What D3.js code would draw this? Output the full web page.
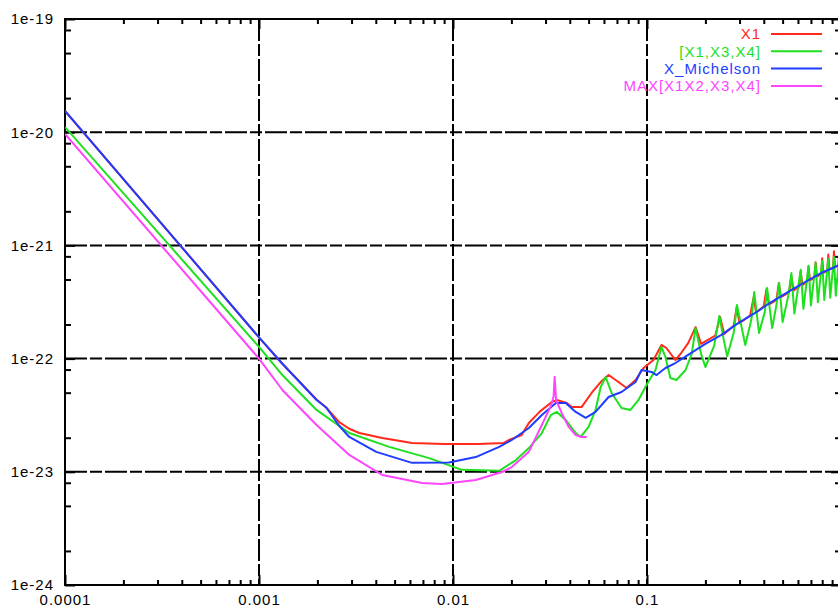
<!DOCTYPE html>
<html>
<head>
<meta charset="utf-8">
<script src="https://cdn.jsdelivr.net/npm/d3@7"></script>
<style>
  body { margin: 0; background: #fff; }
  text { font-family: "Liberation Sans", Arial, Helvetica, sans-serif; font-size: 15px; letter-spacing: 1px; }
</style>
</head>
<body>
<div class="chart"></div>
<script>
// DATA ------------------------------------
const x1Freq = [1e-4, 1e-3, 1.32e-3, 1.98e-3, 2.22e-3, 2.59e-3, 2.92e-3, 3.29e-3, 4.32e-3, 6.15e-3, 9e-3, 1.36e-2, 1.83e-2, 1.94e-2, 2.26e-2, 2.46e-2, 2.8e-2, 3.23e-2, 3.43e-2, 3.86e-2, 4.09e-2, 4.6e-2, 5.18e-2, 5.77e-2, 6.34e-2, 7.13e-2, 7.85e-2, 8.73e-2, 9.6e-2, 0.108, 0.1188, 0.1259, 0.14, 0.15, 0.163,
    0.178, 0.19, 0.225, 0.238, 0.25, 0.28, 0.29, 0.3, 0.34, 0.355, 0.365, 0.4, 0.413, 0.425, 0.465, 0.478, 0.49, 0.54, 0.555, 0.57, 0.61, 0.62, 0.632, 0.67, 0.68, 0.692, 0.73, 0.74, 0.752, 0.79, 0.8, 0.812, 0.85, 0.86, 0.872, 0.91, 0.92, 0.932, 0.97, 0.98, 1.0];
const x1Val = [1.54e-20, 1.54e-22, 9.0e-23, 4.35e-23, 3.7e-23, 2.75e-23, 2.4e-23, 2.2e-23, 1.99e-23, 1.8e-23, 1.76e-23, 1.76e-23, 1.8e-23, 1.91e-23, 2.11e-23, 2.7e-23, 3.4e-23, 4.13e-23, 4.31e-23, 4.05e-23, 3.73e-23, 3.73e-23, 4.97e-23, 6.21e-23, 7.16e-23, 6.21e-23, 5.5e-23, 6.47e-23, 8.26e-23, 9.72e-23, 1.32e-22, 1.24e-22, 9.72e-23, 1.12e-22, 1.37e-22,
    1.9e-22, 1.35e-22, 1.6e-22, 2.33e-22, 1.65e-22, 1.95e-22, 2.86e-22, 2.05e-22, 2.4e-22, 3.5e-22, 2.55e-22, 2.9e-22, 4.12e-22, 3.0e-22, 3.3e-22, 4.66e-22, 3.5e-22, 3.85e-22, 5.26e-22, 4.0e-22, 4.35e-22, 5.9e-22, 4.45e-22, 4.8e-22, 6.5e-22, 4.9e-22, 5.2e-22, 7.1e-22, 5.3e-22, 5.6e-22, 7.7e-22, 5.7e-22, 6.0e-22, 8.3e-22, 6.1e-22, 6.35e-22, 8.9e-22, 6.45e-22, 6.7e-22, 9.4e-22, 6.9e-22];

const x134Freq = [1e-4, 1e-3, 1.32e-3, 1.98e-3, 2.92e-3, 4.69e-3, 7.53e-3, 1.11e-2, 1.73e-2, 2.11e-2, 2.46e-2, 2.87e-2, 3.19e-2, 3.43e-2, 3.81e-2, 4.29e-2, 4.55e-2, 5.0e-2, 5.43e-2, 5.77e-2, 6.12e-2, 6.57e-2, 7.39e-2, 8.22e-2, 9.04e-2, 9.94e-2, 0.1106, 0.1188, 0.1245, 0.132, 0.142, 0.158, 0.17, 0.178, 0.19, 0.2, 0.222, 0.236, 0.248, 0.259, 0.28, 0.291, 0.321, 0.345, 0.357, 0.378, 0.405, 0.416, 0.442, 0.465, 0.48, 0.5, 0.535,
    0.555, 0.575, 0.62, 0.64, 0.68, 0.7, 0.74, 0.76, 0.8, 0.82, 0.86, 0.88, 0.92, 0.94, 0.98, 1.0];
const x134Val = [1.11e-20, 1.27e-22, 7.16e-23, 3.52e-23, 2.2e-23, 1.66e-23, 1.32e-23, 1.04e-23, 1.02e-23, 1.27e-23, 1.62e-23, 2.2e-23, 3.17e-23, 3.38e-23, 2.87e-23, 2.2e-23, 2.03e-23, 2.49e-23, 3.52e-23, 5.61e-23, 6.88e-23, 4.97e-23, 3.66e-23, 3.52e-23, 4.31e-23, 5.85e-23, 7.93e-23, 1.27e-22, 1.03e-22, 6.74e-23, 6.47e-23, 7.93e-23, 1.1e-22, 1.86e-22, 1.1e-22, 8.43e-23, 1.3e-22, 2.38e-22, 1.5e-22, 1.05e-22, 1.7e-22, 2.97e-22, 1.32e-22, 2.2e-22, 3.88e-22, 1.68e-22, 2.6e-22, 4.21e-22, 1.86e-22, 3.0e-22, 4.66e-22, 2.1e-22, 3.6e-22,
    5.7e-22, 2.5e-22, 6.1e-22, 2.75e-22, 6.6e-22, 2.95e-22, 7.0e-22, 3.15e-22, 7.3e-22, 3.3e-22, 7.6e-22, 3.45e-22, 7.9e-22, 3.6e-22, 8.2e-22, 3.7e-22];

const michFreq = [1e-4, 1e-3, 1.32e-3, 1.98e-3, 2.22e-3, 2.59e-3, 2.92e-3, 4.02e-3, 6.15e-3, 9.53e-3, 1.31e-2, 1.73e-2, 2.01e-2, 2.46e-2, 2.87e-2, 3.39e-2, 3.81e-2, 4.29e-2, 4.83e-2, 5.43e-2, 6.34e-2, 7.39e-2, 8.73e-2, 9.37e-2, 0.1054, 0.112, 0.1245, 0.14, 0.163, 0.2, 0.242, 0.295, 0.361, 0.437, 0.534, 0.653, 0.789, 0.931, 1.0];
const michVal = [1.54e-20, 1.54e-22, 9.0e-23, 4.31e-23, 3.7e-23, 2.55e-23, 2.03e-23, 1.5e-23, 1.2e-23, 1.21e-23, 1.35e-23, 1.66e-23, 1.91e-23, 2.44e-23, 3.17e-23, 4.05e-23, 4.05e-23, 3.38e-23, 2.99e-23, 3.38e-23, 4.58e-23, 5.07e-23, 6.21e-23, 7.93e-23, 7.62e-23, 7.16e-23, 8.26e-23, 9.14e-23, 1.08e-22, 1.35e-22, 1.62e-22, 2.06e-22, 2.53e-22, 3.16e-22, 3.88e-22, 4.75e-22, 5.7e-22, 6.44e-22, 6.9e-22];

const maxFreq = [1e-4, 1e-3, 1.32e-3, 1.98e-3, 2.92e-3, 4.32e-3, 6.93e-3, 8.78e-3, 1.31e-2, 1.79e-2, 2.01e-2, 2.46e-2, 2.87e-2, 3.19e-2, 3.3e-2, 3.34e-2, 3.4e-2, 3.63e-2, 3.95e-2, 4.29e-2, 4.6e-2, 4.89e-2];
const maxVal = [9.64e-21, 1.0e-22, 5.28e-23, 2.59e-23, 1.41e-23, 9.37e-24, 7.96e-24, 7.8e-24, 8.47e-24, 9.96e-24, 1.1e-23, 1.5e-23, 2.59e-23, 3.8e-23, 4.6e-23, 6.9e-23, 4.3e-23, 3.31e-23, 2.49e-23, 2.11e-23, 2.03e-23, 2.03e-23];

const seriesNames = ['X1', '[X1,X3,X4]', 'X_Michelson', 'MAX[X1X2,X3,X4]'];
const seriesColors = ['#ff2a1a', '#1ee01e', '#1f3dff', '#ff44ff'];

const xMajor = [1e-4, 1e-3, 1e-2, 1e-1, 1];
const xLabels = ['0.0001', '0.001', '0.01', '0.1'];
const yMajor = [1e-24, 1e-23, 1e-22, 1e-21, 1e-20, 1e-19];
const yLabels = ['1e-24', '1e-23', '1e-22', '1e-21', '1e-20', '1e-19'];

// CHART INIT ------------------------------
const W = 838, H = 607;
const plotLeft = 65, plotRight = 841, plotTop = 19, plotBottom = 585;

const svg = d3.select('.chart')
    .append('svg')
    .attr('width', W)
    .attr('height', H)
    .style('display', 'block');

svg.append('rect').attr('width', W).attr('height', H).attr('fill', '#fff');

const xScale = d3.scaleLog().domain([1e-4, 1]).range([plotLeft, plotRight]);
const yScale = d3.scaleLog().domain([1e-24, 1e-19]).range([plotBottom, plotTop]);

// minor ticks: 2..9 on x, 2,5,8 on y
const xMinor = [];
xMajor.slice(0, -1).forEach(d => { for (let k = 2; k <= 9; k++) xMinor.push(d * k); });
const yMinor = [];
yMajor.slice(0, -1).forEach(d => { [2, 5, 8].forEach(k => yMinor.push(d * k)); });

// grid
const grid = svg.append('g').attr('class', 'grid');
grid.selectAll('.gx')
    .data(xMajor.slice(1, -1))
    .enter().append('line')
    .attr('x1', d => xScale(d)).attr('x2', d => xScale(d))
    .attr('y1', plotTop).attr('y2', plotBottom);
grid.selectAll('.gy')
    .data(yMajor.slice(1, -1))
    .enter().append('line')
    .attr('y1', d => yScale(d)).attr('y2', d => yScale(d))
    .attr('x1', plotLeft).attr('x2', plotRight);
grid.selectAll('line')
    .attr('stroke', '#000')
    .attr('stroke-width', 2)
    .attr('stroke-dasharray', '22,3,12,3');

// axes (ticks point inward)
function addAxis(axis, tx, ty) {
    const g = svg.append('g')
        .attr('transform', `translate(${tx},${ty})`)
        .call(axis);
    g.select('.domain').remove();
    g.selectAll('line').attr('stroke', '#000').attr('stroke-width', 2);
    return g;
}
const noFmt = () => '';

addAxis(d3.axisBottom(xScale).tickValues(xMinor).tickSize(-5).tickFormat(noFmt), 0, plotBottom);
addAxis(d3.axisTop(xScale).tickValues(xMinor).tickSize(-5).tickFormat(noFmt), 0, plotTop);
addAxis(d3.axisLeft(yScale).tickValues(yMinor).tickSize(-6).tickFormat(noFmt), plotLeft, 0);
addAxis(d3.axisRight(yScale).tickValues(yMinor).tickSize(-6).tickFormat(noFmt), plotRight, 0);

addAxis(d3.axisBottom(xScale).tickValues(xMajor).tickSize(-10).tickPadding(9)
    .tickFormat((d, i) => xLabels[i] || ''), 0, plotBottom);
addAxis(d3.axisTop(xScale).tickValues(xMajor).tickSize(-10).tickFormat(noFmt), 0, plotTop);
addAxis(d3.axisLeft(yScale).tickValues(yMajor).tickSize(-10).tickPadding(11)
    .tickFormat((d, i) => yLabels[i]), plotLeft, 0);
addAxis(d3.axisRight(yScale).tickValues(yMajor).tickSize(-10).tickFormat(noFmt), plotRight, 0);

svg.selectAll('.tick text')
    .attr('fill', '#000')
    .style('font-size', '15px')
    .style('font-family', '"Liberation Sans", Arial, sans-serif');

// frame
svg.append('rect')
    .attr('x', plotLeft).attr('y', plotTop)
    .attr('width', plotRight - plotLeft).attr('height', plotBottom - plotTop)
    .attr('fill', 'none')
    .attr('stroke', '#000')
    .attr('stroke-width', 2);

// curves
svg.append('clipPath').attr('id', 'plot-clip')
    .append('rect')
    .attr('x', plotLeft).attr('y', plotTop)
    .attr('width', plotRight - plotLeft).attr('height', plotBottom - plotTop);

const series = [
    [x1Freq, x1Val],
    [x134Freq, x134Val],
    [michFreq, michVal],
    [maxFreq, maxVal]
].map(([f, v]) => f.map((d, i) => ({ f: d, v: v[i] })));

const line = d3.line()
    .x(d => xScale(d.f))
    .y(d => yScale(d.v));

svg.append('g')
    .attr('clip-path', 'url(#plot-clip)')
    .selectAll('path')
    .data(series)
    .enter().append('path')
    .attr('d', line)
    .attr('fill', 'none')
    .attr('stroke', (d, i) => seriesColors[i])
    .attr('stroke-width', 2)
    .attr('stroke-linejoin', 'round');

// legend
const legend = svg.append('g').attr('class', 'legend');
const rows = legend.selectAll('g')
    .data(seriesNames)
    .enter().append('g')
    .attr('transform', (d, i) => `translate(0,${34 + i * 17.3})`);

rows.append('text')
    .attr('x', 761)
    .attr('dy', '0.35em')
    .attr('text-anchor', 'end')
    .attr('fill', (d, i) => seriesColors[i])
    .text(d => d);

rows.append('line')
    .attr('x1', 771).attr('x2', 822)
    .attr('stroke', (d, i) => seriesColors[i])
    .attr('stroke-width', 2);
</script>
</body>
</html>
